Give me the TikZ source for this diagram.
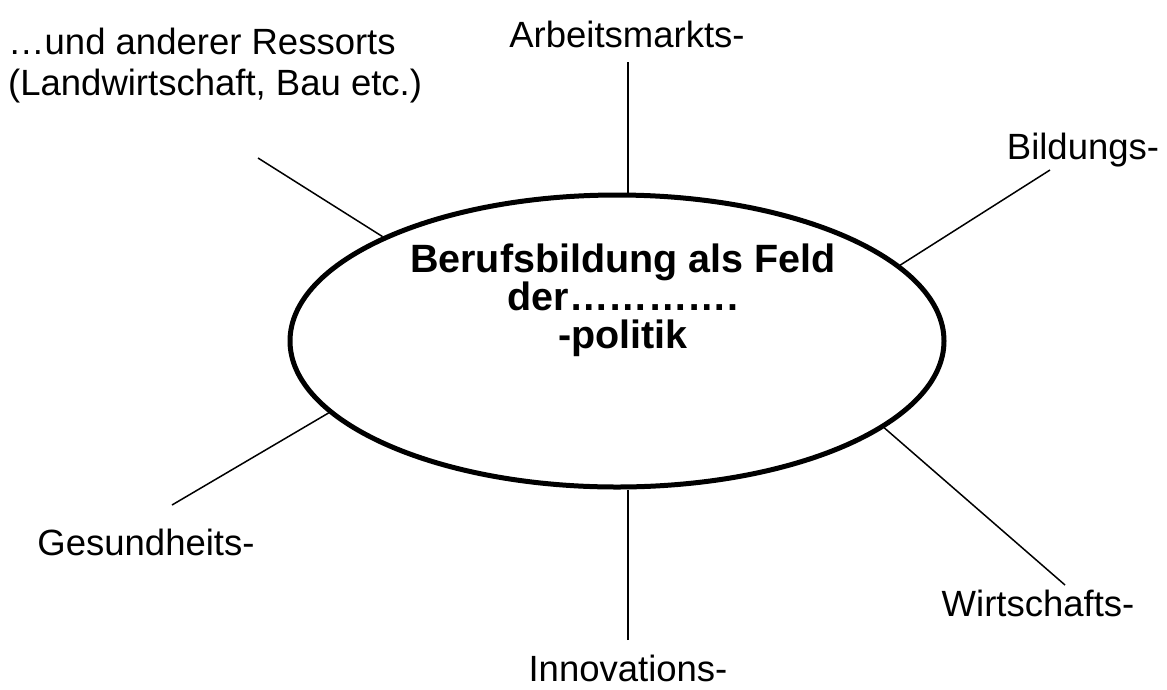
\documentclass[tikz,border=0pt]{standalone}
\usepackage{fontspec}
\setmainfont{Liberation Sans}
\usepackage{tikz}
\usetikzlibrary{shapes.geometric,calc}
\tikzset{
    field/.style={
        ellipse,
        draw, line width=5pt,
        minimum width=654pt,
        minimum height=292pt,
        inner sep=0pt
    },
    fieldtext/.style={
        font={\bfseries\fontsize{39.5}{38}\selectfont},
        align=center,
        inner sep=0pt
    },
    policy/.style={
        font={\fontsize{36.5}{41}\selectfont},
        inner sep=0pt,
        anchor=base
    },
    spoke/.style={draw, line width=1.5pt},
}
\begin{document}
\begin{tikzpicture}[x=1pt, y=-1pt]

\useasboundingbox (0,0) rectangle (1167,689);

\node [field] (feld) at (617,341) {};
\node [fieldtext] (feldtext) at (623,300) {Berufsbildung als Feld\\der………….\\-politik};

\foreach \n/\x/\y/\l in {arbeit/627/47/Arbeitsmarkts-, bildung/1083/159/Bildungs-,
    wirtschaft/1038/616/Wirtschafts-, innovation/628/681/Innovations-,
    gesundheit/146/555/Gesundheits-}
  \node [policy] (\n) at (\x,\y) {\l};

\node [policy, anchor=north west, align=left] (ressort) at (8,28)
  {…und anderer Ressorts\\(Landwirtschaft, Bau etc.)};

\foreach \n/\x/\y in {arbeit/628/62, bildung/1050/170, wirtschaft/1065/585,
    innovation/628/640, gesundheit/172/505, ressort/258/158}
  \coordinate (\n-out) at (\x,\y);

\draw [spoke] (arbeit-out) -- (arbeit-out |- feld.north);
\draw [spoke] (innovation-out) -- (innovation-out |- feld.south);

\foreach \n/\a in {bildung/15, wirtschaft/342, gesundheit/194, ressort/156}
  \draw [spoke] (\n-out) -- (feld.\a);

\end{tikzpicture}
\end{document}
